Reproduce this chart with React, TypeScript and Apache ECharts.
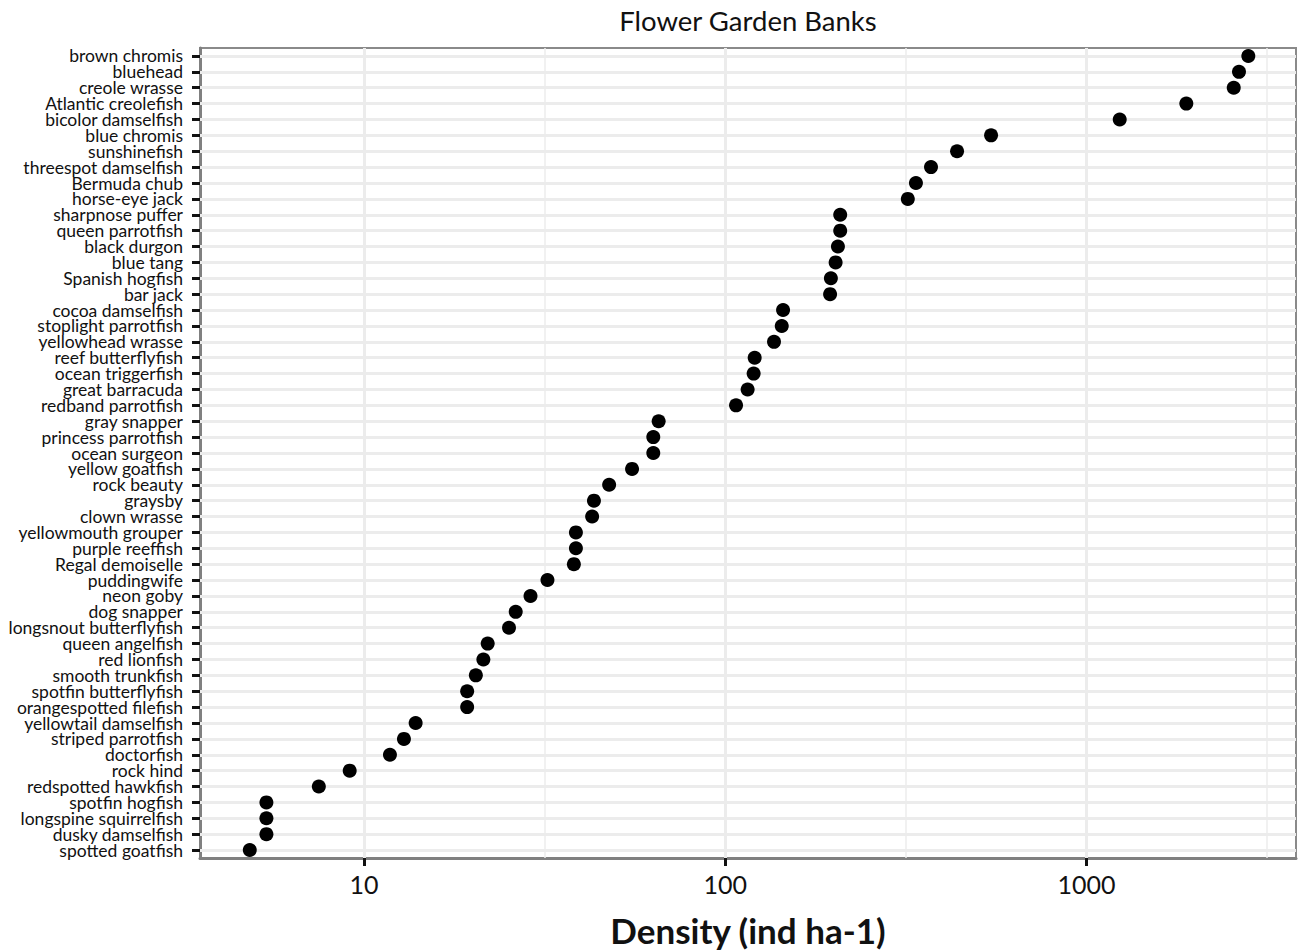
import React, { useEffect, useRef } from 'react';
import * as echarts from 'echarts';

const species = [
  'brown chromis', 'bluehead', 'creole wrasse', 'Atlantic creolefish', 'bicolor damselfish',
  'blue chromis', 'sunshinefish', 'threespot damselfish', 'Bermuda chub', 'horse-eye jack',
  'sharpnose puffer', 'queen parrotfish', 'black durgon', 'blue tang', 'Spanish hogfish',
  'bar jack', 'cocoa damselfish', 'stoplight parrotfish', 'yellowhead wrasse', 'reef butterflyfish',
  'ocean triggerfish', 'great barracuda', 'redband parrotfish', 'gray snapper', 'princess parrotfish',
  'ocean surgeon', 'yellow goatfish', 'rock beauty', 'graysby', 'clown wrasse',
  'yellowmouth grouper', 'purple reeffish', 'Regal demoiselle', 'puddingwife', 'neon goby',
  'dog snapper', 'longsnout butterflyfish', 'queen angelfish', 'red lionfish', 'smooth trunkfish',
  'spotfin butterflyfish', 'orangespotted filefish', 'yellowtail damselfish', 'striped parrotfish', 'doctorfish',
  'rock hind', 'redspotted hawkfish', 'spotfin hogfish', 'longspine squirrelfish', 'dusky damselfish',
  'spotted goatfish',
];

const density = [
  2803, 2641, 2554, 1888, 1235,
  544, 438, 371, 337, 320,
  208, 208, 205, 202, 196,
  195, 144.5, 143.3, 136.4, 120.6,
  119.8, 115.3, 107.1, 65.4, 63.2,
  63.2, 55.2, 47.7, 43.3, 42.8,
  38.6, 38.6, 38.1, 32.2, 28.9,
  26.3, 25.2, 22.0, 21.4, 20.4,
  19.3, 19.3, 13.9, 12.9, 11.8,
  9.13, 7.5, 5.37, 5.37, 5.37,
  4.83,
];

const majorTicks = [10, 100, 1000];
const minorGrid = [3.162, 31.62, 316.2, 3162];
const xMin = 3.517;
const xMax = 3798;
const titleText = 'Flower Garden Banks';
const xTitle = 'Density (ind ha-1)';

const FONT = 'Lato';

export default function App() {
  const ref = useRef<HTMLDivElement>(null);
  useEffect(() => {
    document.body.style.margin = '0';
    const chart = echarts.init(ref.current!, null, { renderer: 'svg' });
    const gridColor = '#ececec';
    chart.setOption({
      animation: false,
      backgroundColor: '#ffffff',
      textStyle: { fontFamily: FONT },
      graphic: [
        {
          type: 'text',
          x: 748,
          y: 20,
          style: {
            text: titleText,
            fontFamily: FONT,
            fontSize: 27.5,
            fill: '#111',
            align: 'center',
            verticalAlign: 'middle',
          },
        },
      ],
      grid: {
        left: 200,
        right: 3,
        top: 48,
        bottom: 93,
        show: true,
        borderColor: '#8a8a8a',
        borderWidth: 2,
        backgroundColor: '#ffffff',
        containLabel: false,
        outerBoundsMode: 'none',
      },
      xAxis: {
        type: 'log',
        logBase: 10,
        min: xMin,
        max: xMax,
        name: xTitle,
        nameLocation: 'middle',
        nameGap: 54,
        nameTextStyle: { fontFamily: FONT, fontSize: 35, fontWeight: 'bold', color: '#111' },
        axisLine: { show: true, lineStyle: { color: '#808080', width: 3 } },
        axisTick: { show: true, customValues: majorTicks, length: 8, lineStyle: { color: '#111', width: 3 } },
        axisLabel: {
          customValues: majorTicks,
          formatter: (v: number) => String(Math.round(v)),
          fontFamily: FONT,
          fontSize: 25,
          color: '#111',
          margin: 13,
        },
        splitLine: { show: false },
        minorSplitLine: { show: false },
      },
      yAxis: {
        type: 'category',
        data: species,
        inverse: true,
        boundaryGap: true,
        axisLine: { show: true, lineStyle: { color: '#808080', width: 3 } },
        axisTick: { show: true, alignWithLabel: true, interval: 0, length: 8, lineStyle: { color: '#111', width: 3 } },
        axisLabel: { interval: 0, fontFamily: FONT, fontSize: 17.5, lineHeight: 15, color: '#111', margin: 17 },
        splitLine: { show: false },
      },
      series: [
        {
          type: 'scatter',
          data: [],
          silent: true,
          markLine: {
            silent: true,
            z: 1,
            symbol: ['none', 'none'],
            label: { show: false },
            emphasis: { disabled: true },
            animation: false,
            data: [
              ...species.map((s) => ({ yAxis: s, lineStyle: { color: gridColor, width: 3, type: 'solid' } })),
              ...majorTicks.map((v) => ({ xAxis: v, lineStyle: { color: gridColor, width: 3, type: 'solid' } })),
              ...minorGrid.map((v) => ({ xAxis: v, lineStyle: { color: gridColor, width: 1.5, type: 'solid' } })),
            ],
          },
        },
        {
          type: 'scatter',
          z: 3,
          symbol: 'circle',
          symbolSize: 14,
          itemStyle: { color: '#000000', opacity: 1 },
          data: species.map((s, i) => [density[i], s]),
        },
      ],
    });
    return () => chart.dispose();
  }, []);
  return <div ref={ref} style={{ width: 1299, height: 951 }} />;
}
